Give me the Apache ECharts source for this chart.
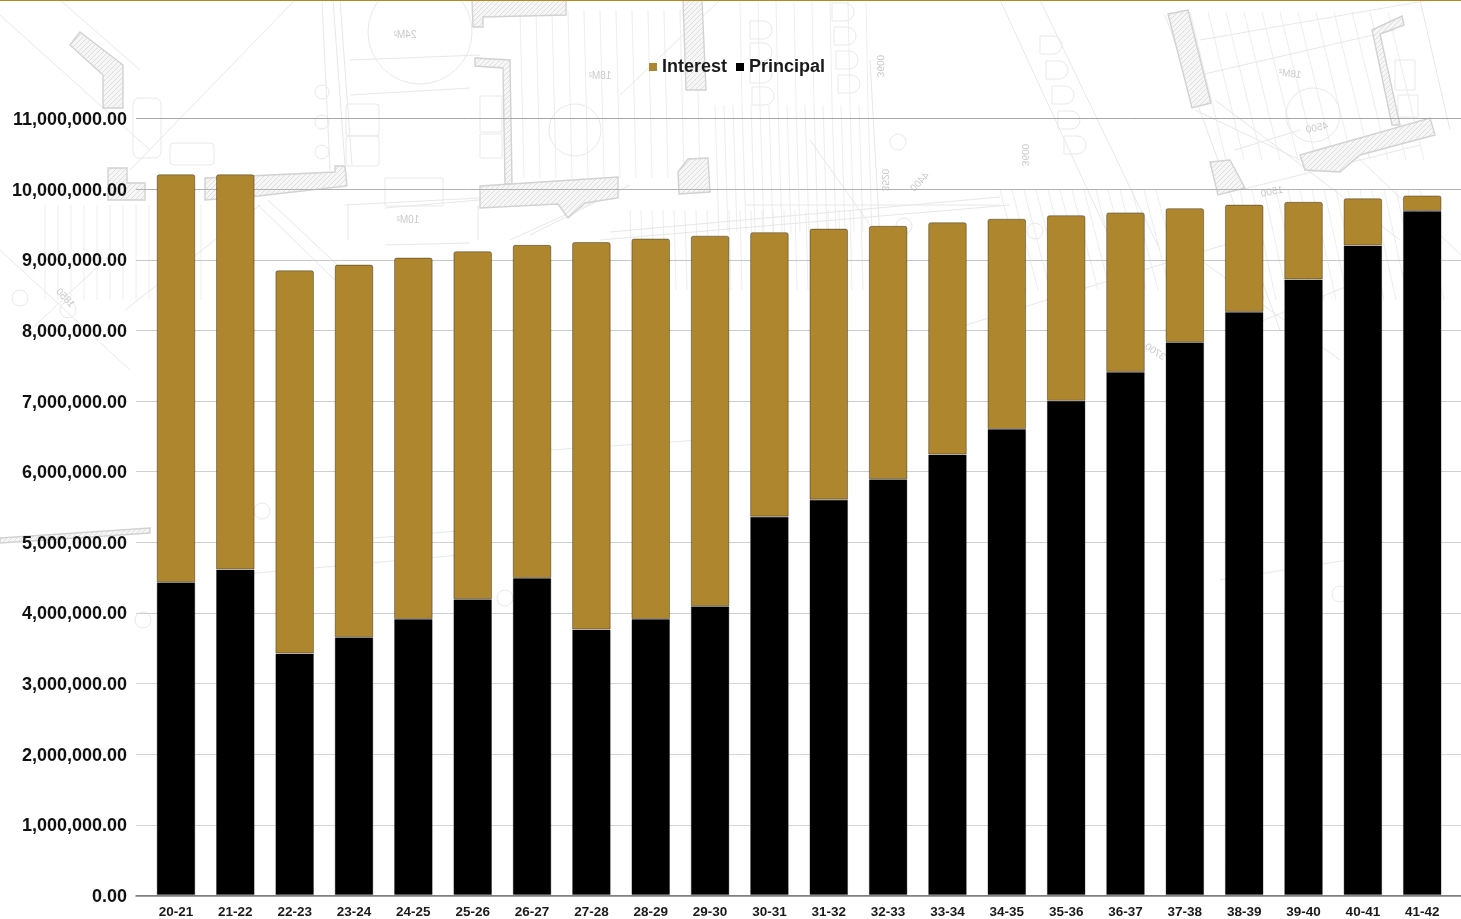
<!DOCTYPE html>
<html>
<head>
<meta charset="utf-8">
<title>Debt service by financial year</title>
<style>
  html, body { margin: 0; padding: 0; background: #fff; }
  #chart { width: 1461px; height: 919px; }
</style>
<script src="https://cdn.jsdelivr.net/npm/echarts@6/dist/echarts.min.js"></script>
</head>
<body>
<div id="chart"></div>
<script>
// Financial years on the category axis
const years = ['20-21','21-22','22-23','23-24','24-25','25-26','26-27','27-28','28-29','29-30','30-31',
               '31-32','32-33','33-34','34-35','35-36','36-37','37-38','38-39','39-40','40-41','41-42'];

// Repayment components per year
const principal = [4430000,4610000,3420000,3650000,3910000,4190000,4490000,3760000,3910000,4090000,5360000,
                   5600000,5890000,6240000,6600000,7000000,7410000,7830000,8260000,8720000,9200000,9690000];
const interest  = [5780000,5600000,5430000,5280000,5120000,4930000,4720000,5490000,5390000,5250000,4030000,
                   3840000,3590000,3290000,2980000,2630000,2260000,1900000,1520000,1100000,670000,220000];

const GOLD = '#ae862e';
const AXIS_FONT = '"Liberation Sans", Arial, sans-serif';
const STEP = 1000000;
const TOP = 11000000;

// Diagonal hatching used for cut walls on the floor plan
function hatchPattern() {
  const c = document.createElement('canvas');
  c.width = 5; c.height = 5;
  const g = c.getContext('2d');
  g.fillStyle = '#f6f6f6';
  g.fillRect(0, 0, 5, 5);
  g.strokeStyle = '#dedede';
  g.lineWidth = 1;
  g.beginPath();
  g.moveTo(-1, 1); g.lineTo(1, -1);
  g.moveTo(0, 5); g.lineTo(5, 0);
  g.moveTo(4, 6); g.lineTo(6, 4);
  g.stroke();
  return { image: c, repeat: 'repeat' };
}

// ---- Faint floor-plan backdrop ----
const WALL = { fill: hatchPattern(), stroke: '#d2d2d2', lineWidth: 1.4 };
const THIN = { fill: 'none', stroke: '#e9e9e9', lineWidth: 1 };
const wallOutlines = [
  [[80,32],[123,65],[123,108],[103,108],[103,75],[70,45]],
  [[108,168],[127,168],[127,183],[145,183],[145,200],[108,200]],
  [[205,178],[335,172],[335,166],[345,166],[347,186],[258,196],[205,200]],
  [[472,0],[566,0],[566,15],[483,17],[483,27],[473,27]],
  [[475,58],[510,60],[512,184],[505,184],[503,68],[475,66]],
  [[480,186],[618,177],[618,198],[585,203],[568,218],[558,204],[480,208]],
  [[678,172],[688,159],[708,158],[710,192],[679,194]],
  [[683,0],[702,0],[706,90],[686,90]],
  [[1168,14],[1188,10],[1211,103],[1192,108]],
  [[1210,162],[1230,160],[1245,188],[1218,195]],
  [[1300,155],[1430,118],[1435,135],[1360,155],[1340,172],[1305,170]],
  [[1372,30],[1402,16],[1404,25],[1380,34],[1400,125],[1392,125]],
  [[0,538],[150,528],[150,533],[0,543]]
];
const planLines = [
  [[0,15],[150,150]], [[60,0],[140,70]], [[295,0],[130,170]], [[0,250],[130,370]], [[25,335],[110,255]],
  [[125,310],[260,205]], [[258,205],[335,280]], [[268,200],[345,272]],
  [[333,0],[345,165]], [[340,0],[352,165]], [[322,0],[330,170]],
  [[350,95],[470,88]], [[350,60],[480,55]], [[385,208],[480,200]], [[345,205],[480,198]],
  [[348,205],[348,240]], [[478,205],[478,240]], [[385,245],[470,243]],
  [[510,240],[620,190]], [[530,235],[630,185]], [[600,240],[1010,205]], [[610,232],[1000,197]],
  [[620,95],[720,0]], [[810,140],[870,225]], [[870,60],[880,240]], [[745,205],[1000,205]],
  [[1000,0],[1120,260]], [[1040,0],[1160,250]], [[1165,15],[1280,330]], [[1195,110],[1300,160]],
  [[1215,100],[1400,240]], [[1355,155],[1461,255]], [[1420,0],[1450,130]], [[1200,40],[1430,0]],
  [[1200,75],[1395,30]], [[1235,150],[1300,130]], [[1240,190],[1420,145]],
  [[1240,330],[1350,285]], [[950,330],[1240,240]], [[1200,260],[1340,360]], [[1220,580],[1380,555]],
  [[350,540],[470,530]], [[235,575],[460,555]], [[550,450],[700,440]], [[700,440],[710,515]]
];
const planCircles = [
  [420,32,52], [322,92,7], [322,122,7], [322,152,7], [575,130,26], [1313,115,27],
  [20,298,8], [68,310,8], [143,620,8], [505,598,8], [898,142,8], [1035,231,8],
  [904,226,8], [1340,594,8], [262,511,8]
];
// Sofa, settee and cabinets drawn as plain outlines
const furniture = [
  [133,98,28,60,6], [170,143,44,22,4], [346,104,33,32,3], [346,136,33,30,3],
  [480,96,22,36,0], [480,134,22,24,0], [1395,60,20,30,0], [1398,95,20,22,0],
  [385,178,58,28,0]
];
const planLabels = [
  ['24M²',405,35,0], ['18M²',600,76,0], ['10M²',408,220,0], ['18M²',1290,74,-0.12],
  ['3600',880,66,-1.57], ['3600',1025,155,-1.57], ['3520',885,180,-1.57], ['4400',920,182,0.8],
  ['1850',65,298,-0.8], ['1500',1272,192,0.2], ['4500',1317,128,0.2], ['3700',1155,352,-0.6]
];

function backdrop() {
  const items = [];
  // Parallel tread and hatch lines
  const stripes = (x0, x1, gap, yTop, yBot, lean) => {
    for (let x = x0; x < x1; x += gap) {
      items.push({ type: 'line', silent: true, z: -10,
        shape: { x1: x, y1: yTop, x2: x + lean, y2: yBot }, style: { stroke: '#eeeeee', lineWidth: 1 } });
    }
  };
  stripes(45, 205, 13, 205, 300, 0);
  stripes(520, 700, 16, 10, 178, 4);
  stripes(715, 870, 9, 105, 232, 4);
  stripes(740, 880, 18, 0, 105, 2);
  stripes(630, 870, 11, 210, 290, 2);
  stripes(1000, 1160, 12, 190, 290, 26);
  stripes(1190, 1400, 18, 12, 160, 36);
  stripes(1240, 1430, 12, 190, 300, 24);

  wallOutlines.forEach(p => items.push({ type: 'polygon', silent: true, z: -9, shape: { points: p }, style: WALL }));
  planLines.forEach(p => items.push({ type: 'line', silent: true, z: -10,
    shape: { x1: p[0][0], y1: p[0][1], x2: p[1][0], y2: p[1][1] }, style: { stroke: '#e8e8e8', lineWidth: 1 } }));
  planCircles.forEach(c => items.push({ type: 'circle', silent: true, z: -10,
    shape: { cx: c[0], cy: c[1], r: c[2] }, style: THIN }));
  furniture.forEach(f => items.push({ type: 'rect', silent: true, z: -10,
    shape: { x: f[0], y: f[1], width: f[2], height: f[3], r: f[4] }, style: THIN }));

  // Column of stools along the terrace
  [[750,30],[750,52],[750,74],[752,96],[832,12],[834,36],[836,60],[838,84],
   [1040,45],[1046,70],[1052,95],[1058,120],[1064,145]].forEach(s => {
    items.push({ type: 'rect', silent: true, z: -10,
      shape: { x: s[0], y: s[1] - 9, width: 22, height: 18, r: [0, 9, 9, 0] }, style: THIN });
  });
  // The sheet is printed reversed, so its lettering is mirrored
  planLabels.forEach(t => items.push({ type: 'text', silent: true, z: -8,
    x: t[1], y: t[2], rotation: t[3], scaleX: -1, originX: 0, originY: 0,
    style: { text: t[0], fill: '#c9c9c9', font: '10px "Liberation Sans", Arial, sans-serif',
             align: 'center', verticalAlign: 'middle' } }));
  // Gold rule across the top of the page
  items.push({ type: 'rect', silent: true, z: 5, shape: { x: 0, y: 0, width: 1461, height: 1 }, style: { fill: '#b8891f' } });
  return items;
}

// Grid lines read a little heavier above the bars than below them
const splitColors = ['#808080','#d6d6d6','#d6d6d6','#d6d6d6','#d0d0d0','#d0d0d0',
                     '#d0d0d0','#cccccc','#cccccc','#c8c8c8','#b2b2b2','#a8a8a8'];

// A translucent edge reads grey against the page and dark where the two stacks meet
const barBorder = { borderColor: 'rgba(0,0,0,0.34)', borderWidth: 1 };

const moneyLabel = v => v.toLocaleString('en-US', { minimumFractionDigits: 2, maximumFractionDigits: 2 });

const chart = echarts.init(document.getElementById('chart'), null, { renderer: 'canvas' });
chart.setOption({
  animation: false,
  backgroundColor: '#ffffff',
  graphic: { elements: backdrop() },
  legend: {
    left: 644, top: 53, itemWidth: 8, itemHeight: 8, itemGap: 9, icon: 'rect',
    data: ['Interest', 'Principal'],
    itemStyle: { borderWidth: 0 },
    textStyle: { fontFamily: AXIS_FONT, fontWeight: 'bold', fontSize: 18, color: '#1a1a1a' }
  },
  grid: [
    // Outer grid carries the value scale and the full-width rules
    { left: 136, right: 0, top: 118.5, bottom: 23.5, containLabel: false },
    // Inner grid is inset so the bars sit clear of the value axis
    { left: 146.3, width: 1305.6, top: 118.5, bottom: 23.5, containLabel: false }
  ],
  xAxis: [
    { type: 'value', gridIndex: 0, min: 0, max: 1, show: true,
      axisLine: { show: true, onZero: false, lineStyle: { color: '#808080', width: 1.5 } },
      axisTick: { show: false }, axisLabel: { show: false }, splitLine: { show: false } },
    { type: 'category', gridIndex: 1, data: years, boundaryGap: true,
      axisLine: { show: false }, axisTick: { show: false },
      axisLabel: { interval: 0, margin: 10, fontFamily: AXIS_FONT, fontWeight: 'bold', fontSize: 13.5, color: '#1a1a1a' } }
  ],
  yAxis: [
    { type: 'value', gridIndex: 0, min: 0, max: TOP, interval: STEP,
      axisLine: { show: false }, axisTick: { show: false },
      axisLabel: { margin: 9,
        formatter: v => '{amount|' + moneyLabel(v) + '}',
        rich: { amount: { padding: [3, 0, 0, 0], fontFamily: AXIS_FONT, fontWeight: 'bold', fontSize: 18, color: '#111111' } } },
      splitLine: { show: true, lineStyle: { color: splitColors, width: 1 } } },
    { type: 'value', gridIndex: 1, min: 0, max: TOP, interval: STEP, show: false, splitLine: { show: false } }
  ],
  series: [
    { name: 'Principal', type: 'bar', stack: 'total', xAxisIndex: 1, yAxisIndex: 1, data: principal,
      barWidth: '65%', z: 3, itemStyle: Object.assign({ color: '#000000' }, barBorder) },
    { name: 'Interest', type: 'bar', stack: 'total', xAxisIndex: 1, yAxisIndex: 1, data: interest,
      barWidth: '65%', z: 3, itemStyle: Object.assign({ color: GOLD, borderRadius: [2, 2, 0, 0] }, barBorder) }
  ]
});
</script>
</body>
</html>
